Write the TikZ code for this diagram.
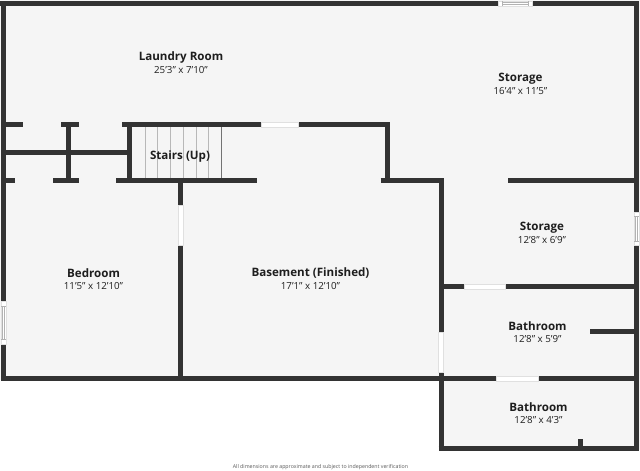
\documentclass[tikz,border=0pt]{standalone}
\usepackage{fontspec}
\setmainfont{Open Sans}
\definecolor{wallc}{HTML}{333333}
\definecolor{floorc}{HTML}{F5F5F5}
\definecolor{txtc}{HTML}{1E1E1E}
\tikzset{
  wall/.style={draw=wallc,line width=3.75pt},
  opening/.style={fill=white,draw=black!12,line width=0.3pt},
  tread/.style={draw=black!28,line width=0.45pt},
  roomname/.style={font=\fontsize{8.7}{11}\selectfont\bfseries,text=txtc,inner sep=0pt},
  roomsize/.style={font=\fontsize{7.3}{8}\selectfont,text=txtc,inner sep=0pt},
  note/.style={font=\fontsize{3.95}{5}\selectfont,text=black!65,inner sep=0pt}
}
\begin{document}
\begin{tikzpicture}[x=0.75pt,y=-0.75pt]
\useasboundingbox (0,0) rectangle (640,471);
\fill[white] (0,0) rectangle (640,471);
\fill[floorc] (0,0) -- (640,0) -- (640,450) -- (440,450) -- (440,380) -- (0,380) -- cycle;
% stairs
\foreach \x in {145,157.7,170.7,183,196,208.7} \draw[tread] (\x,127) -- (\x,178);
\draw[draw=black!55,line width=0.5pt] (221.7,127) -- (221.7,178);
% outer walls
\draw[wall,line width=3.6pt] (0,3.5) -- (498,3.5);
\draw[wall,line width=3.6pt] (532,3.5) -- (636.5,3.5);
\draw[wall,line width=3.6pt] (3.5,1) -- (3.5,301);
\draw[wall,line width=3.6pt] (3.5,344) -- (3.5,381);
\draw[wall,line width=3.6pt] (636.5,1) -- (636.5,212);
\draw[wall,line width=3.6pt] (636.5,245) -- (636.5,451);
\draw[wall] (1,378.5) -- (496,378.5);
\draw[wall] (538,378.5) -- (636,378.5);
\draw[wall] (438.5,448.5) -- (639,448.5);
\draw[wall] (441,372) -- (441,451);
% upper interior walls
\draw[wall] (1,124.5) -- (22.5,124.5);
\draw[wall] (61,124.5) -- (79,124.5);
\draw[wall] (122,124.5) -- (261,124.5);
\draw[wall] (298,124.5) -- (390,124.5);
\draw[wall] (387.5,122) -- (387.5,182);
\draw[wall] (1,152.3) -- (127,152.3);
\draw[wall] (68.2,124) -- (68.2,180);
\draw[wall] (129.7,124) -- (129.7,180);
\draw[wall] (1,180.3) -- (15,180.3);
\draw[wall] (53,180.3) -- (79,180.3);
\draw[wall] (116,180.3) -- (257,180.3);
\draw[wall] (180.3,180) -- (180.3,205);
\draw[wall] (180.3,245) -- (180.3,378);
\draw[wall] (380.7,180.3) -- (443.5,180.3);
\draw[wall] (441,178) -- (441,332);
\draw[wall] (508,180.3) -- (636,180.3);
\draw[wall] (441,286.3) -- (464.5,286.3);
\draw[wall] (505,286.3) -- (636,286.3);
\draw[wall] (590,331) -- (636,331);
\draw[wall] (580,439) -- (580,448);
% door openings
\fill[opening] (261,122) rectangle (298,127);
\fill[opening] (178,205) rectangle (183,245);
\fill[opening] (438.5,332) rectangle (443.5,372);
\fill[opening] (464.5,284) rectangle (505,289);
\fill[opening] (496,376) rectangle (538,381);
% windows
\fill[opening] (498,1) rectangle (532,6);
\draw[draw=black!30,line width=0.3pt] (502,2.5) -- (528,2.5) (502,4.5) -- (528,4.5) (502,1) -- (502,6) (528,1) -- (528,6);
\fill[opening] (634,212) rectangle (639,245);
\draw[draw=black!30,line width=0.3pt] (635.5,216) -- (635.5,241) (637.5,216) -- (637.5,241) (634,216) -- (639,216) (634,241) -- (639,241);
\fill[opening] (1,301) rectangle (6,344);
\draw[draw=black!30,line width=0.3pt] (2.5,306) -- (2.5,339) (4.5,306) -- (4.5,339) (1,306) -- (6,306) (1,339) -- (6,339);
% labels
\node[roomname] (laundry) at (181,57.5) {Laundry Room};
\node[roomsize] (laundrys) at (181,70.5) {25'3" x 7'10"};
\node[roomname] (storagea) at (520.5,78.5) {Storage};
\node[roomsize] (storageas) at (520.5,91) {16'4" x 11'5"};
\node[roomname] (stairs) at (180,156) {Stairs (Up)};
\node[roomname] (bedroom) at (93.5,273) {Bedroom};
\node[roomsize] (bedrooms) at (93.5,286) {11'5" x 12'10"};
\node[roomname] (basement) at (310.5,273) {Basement (Finished)};
\node[roomsize] (basements) at (310.5,286) {17'1" x 12'10"};
\node[roomname] (storageb) at (542,228) {Storage};
\node[roomsize] (storagebs) at (542,240.5) {12'8" x 6'9"};
\node[roomname] (batha) at (537.5,326.5) {Bathroom};
\node[roomsize] (bathas) at (537.5,339.5) {12'8" x 5'9"};
\node[roomname] (bathb) at (538.5,407.5) {Bathroom};
\node[roomsize] (bathbs) at (538.5,420.5) {12'8" x 4'3"};
\node[note] (footnote) at (320.5,467.5) {All dimensions are approximate and subject to independent verification};
\end{tikzpicture}
\end{document}
